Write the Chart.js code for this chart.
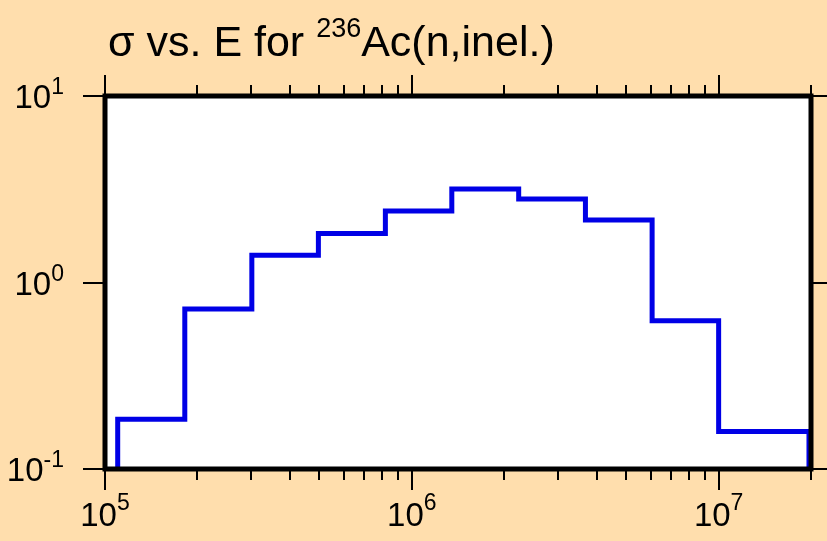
<!DOCTYPE html>
<html>
<head>
<meta charset="utf-8">
<title>sigma vs E for 236Ac(n,inel.)</title>
<script src="https://cdn.jsdelivr.net/npm/chart.js@4.4.1/dist/chart.umd.min.js"></script>
<style>
    html, body { margin: 0; padding: 0; background: #FFDEAD; }
    #chart { display: block; }
</style>
</head>
<body>
<canvas id="chart" width="827" height="541"></canvas>
<script>
// Bin edges (eV) and cross sections (b)
const binEdges = [1.1e5, 1.82e5, 3.01e5, 4.96e5, 8.2e5, 1.35e6, 2.23e6, 3.68e6, 6.07e6, 1.0e7, 1.97e7];
const crossSections = [0.185, 0.72, 1.40, 1.83, 2.42, 3.17, 2.80, 2.16, 0.623, 0.159];

// Axis ranges and tick labels
const xRange = [1e5, 2e7];
const yRange = [0.1, 10];
const xMajorTicks = [1e5, 1e6, 1e7];
const xMajorExps = ['5', '6', '7'];
const yMajorTicks = [0.1, 1, 10];
const yMajorExps = ['-1', '0', '1'];

const titleMain = 'σ vs. E for ';
const titleSup = '236';
const titleRest = 'Ac(n,inel.)';

const FONT = '"Liberation Sans", Arial, Helvetica, sans-serif';

// minor ticks 2..9 x 10^k inside the x range
const xMinorTicks = [];
for (let k = 5; k <= 7; k++) {
    for (let m = 2; m <= 9; m++) {
        const v = m * Math.pow(10, k);
        if (v <= xRange[1]) xMinorTicks.push(v);
    }
}

// Build the histogram outline from the bins
const stepPoints = [{ x: binEdges[0], y: yRange[0] }];
crossSections.forEach((v, i) => {
    stepPoints.push({ x: binEdges[i], y: v });
    stepPoints.push({ x: binEdges[i + 1], y: v });
});
stepPoints.push({ x: binEdges[binEdges.length - 1], y: yRange[0] });

function drawPower(ctx, exp, x, y, align, mainSize, supSize, raise) {
    ctx.font = mainSize + 'px ' + FONT;
    const w1 = ctx.measureText('10').width;
    ctx.font = supSize + 'px ' + FONT;
    const w2 = ctx.measureText(exp).width;
    let start = x;
    if (align === 'center') start = x - (w1 + w2) / 2;
    if (align === 'right') start = x - (w1 + w2);
    ctx.textAlign = 'left';
    ctx.textBaseline = 'alphabetic';
    ctx.font = mainSize + 'px ' + FONT;
    ctx.fillText('10', start, y);
    ctx.font = supSize + 'px ' + FONT;
    ctx.fillText(exp, start + w1, y - raise);
}

const framePlugin = {
    id: 'frame',
    beforeDraw(chart) {
        const ctx = chart.ctx;
        const a = chart.chartArea;
        ctx.save();
        ctx.fillStyle = '#FFDEAD';
        ctx.fillRect(0, 0, chart.width, chart.height);
        ctx.fillStyle = '#FFFFFF';
        ctx.fillRect(a.left, a.top, a.right - a.left, a.bottom - a.top);
        ctx.restore();
    },
    afterDraw(chart) {
        const ctx = chart.ctx;
        const a = chart.chartArea;
        const xs = chart.scales.x;
        const ys = chart.scales.y;
        ctx.save();
        ctx.strokeStyle = '#000000';

        // ticks
        ctx.lineWidth = 2;
        ctx.beginPath();
        xMajorTicks.forEach(v => {
            const px = Math.round(xs.getPixelForValue(v));
            ctx.moveTo(px, a.bottom); ctx.lineTo(px, a.bottom + 21);
            ctx.moveTo(px, a.top); ctx.lineTo(px, a.top - 21);
        });
        xMinorTicks.forEach(v => {
            const px = Math.round(xs.getPixelForValue(v));
            ctx.moveTo(px, a.bottom); ctx.lineTo(px, a.bottom + 11);
            ctx.moveTo(px, a.top); ctx.lineTo(px, a.top - 11);
        });
        yMajorTicks.forEach(v => {
            const py = Math.round(ys.getPixelForValue(v));
            ctx.moveTo(a.left, py); ctx.lineTo(a.left - 22, py);
            ctx.moveTo(a.right, py); ctx.lineTo(a.right + 22, py);
        });
        ctx.stroke();

        // frame
        ctx.lineWidth = 5;
        ctx.strokeRect(a.left, a.top, a.right - a.left, a.bottom - a.top);

        // tick labels
        ctx.fillStyle = '#000000';
        xMajorTicks.forEach((v, i) => {
            drawPower(ctx, xMajorExps[i], xs.getPixelForValue(v), a.bottom + 57, 'center', 33, 23, 16);
        });
        yMajorTicks.forEach((v, i) => {
            drawPower(ctx, yMajorExps[i], a.left - 41, ys.getPixelForValue(v) + 12, 'right', 33, 23, 14);
        });

        // title
        let tx = 108;
        const ty = 56;
        ctx.textAlign = 'left';
        ctx.font = '43px ' + FONT;
        ctx.fillText(titleMain, tx, ty);
        tx += ctx.measureText(titleMain).width;
        ctx.font = '27px ' + FONT;
        ctx.fillText(titleSup, tx, ty - 19);
        tx += ctx.measureText(titleSup).width;
        ctx.font = '43px ' + FONT;
        ctx.fillText(titleRest, tx, ty);
        ctx.restore();
    }
};

new Chart(document.getElementById('chart'), {
    type: 'line',
    data: {
        datasets: [{
            data: stepPoints,
            borderColor: '#0000E6',
            borderWidth: 5,
            borderJoinStyle: 'miter',
            borderCapStyle: 'butt',
            pointRadius: 0,
            fill: false,
            tension: 0
        }]
    },
    options: {
        responsive: false,
        animation: false,
        devicePixelRatio: 1,
        layout: { padding: { left: 105, top: 96, right: 16, bottom: 72 } },
        plugins: {
            legend: { display: false },
            title: { display: false },
            tooltip: { enabled: false }
        },
        scales: {
            x: { type: 'logarithmic', min: xRange[0], max: xRange[1], display: false },
            y: { type: 'logarithmic', min: yRange[0], max: yRange[1], display: false }
        }
    },
    plugins: [framePlugin]
});
</script>
</body>
</html>
